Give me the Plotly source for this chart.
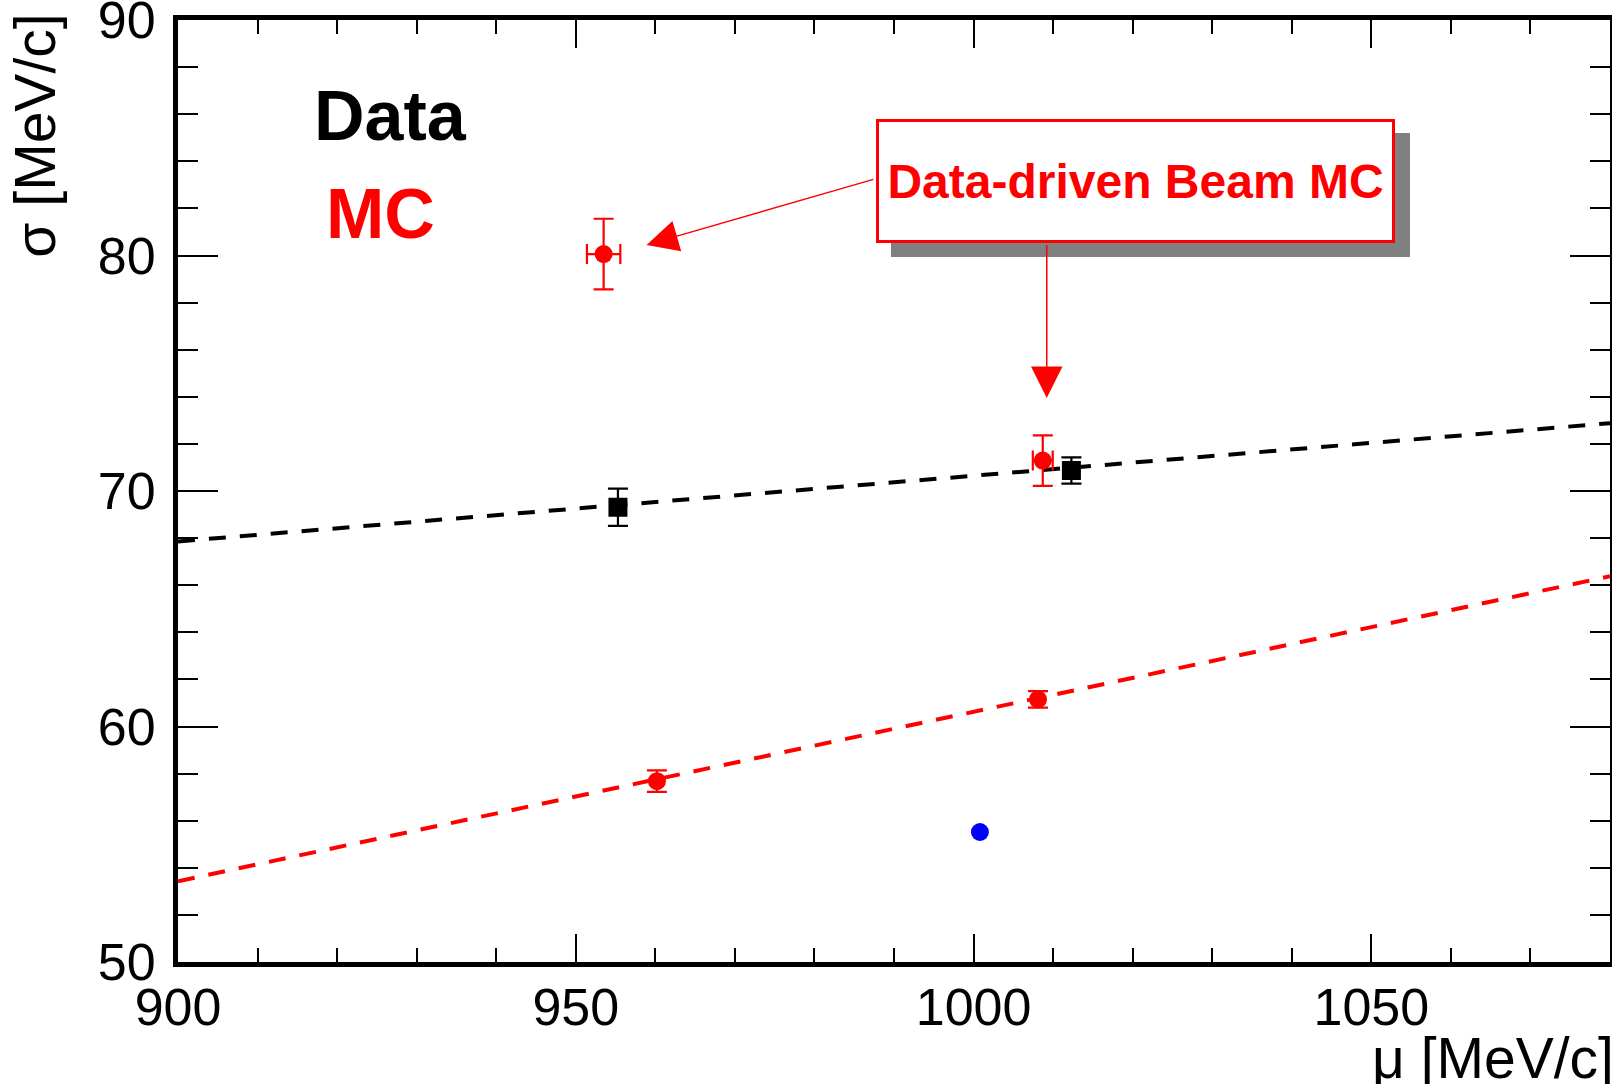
import plotly.graph_objects as go

# ---- data ----
data_x = [955.3, 1012.3]
data_y = [69.31, 70.87]
data_yerr = [0.79, 0.56]

mc_x = [960.2, 1008.1]
mc_y = [57.68, 61.15]
mc_yerr = [0.46, 0.35]

beam_mc_x = [953.5, 1008.7]
beam_mc_y = [80.06, 71.29]
beam_mc_xerr = [2.1, 1.25]
beam_mc_yerr = [1.5, 1.07]

blue_x = [1000.8]
blue_y = [55.52]

fit_x = [900, 1080]
data_fit_y = [67.86, 72.88]
mc_fit_y = [53.43, 66.38]

y_ticks = [50, 60, 70, 80, 90]
x_ticks = [900, 950, 1000, 1050]

FONT = "Liberation Sans, Arial, Helvetica, sans-serif"
RED = "#ff0000"

fig = go.Figure()

# fit lines
fig.add_trace(go.Scatter(x=fit_x, y=data_fit_y, mode="lines",
                         line=dict(color="black", width=4, dash="17px,14px"),
                         showlegend=False, hoverinfo="skip"))
fig.add_trace(go.Scatter(x=fit_x, y=mc_fit_y, mode="lines",
                         line=dict(color=RED, width=4, dash="17px,14px"),
                         showlegend=False, hoverinfo="skip"))

# data points
fig.add_trace(go.Scatter(x=data_x, y=data_y, mode="markers",
                         marker=dict(symbol="square", size=19, color="black"),
                         error_y=dict(type="data", array=data_yerr, color="black",
                                      thickness=2.2, width=10),
                         showlegend=False))
fig.add_trace(go.Scatter(x=mc_x, y=mc_y, mode="markers",
                         marker=dict(symbol="circle", size=18, color=RED),
                         error_y=dict(type="data", array=mc_yerr, color=RED,
                                      thickness=2.2, width=10),
                         showlegend=False))
fig.add_trace(go.Scatter(x=beam_mc_x, y=beam_mc_y, mode="markers",
                         marker=dict(symbol="circle", size=18, color=RED),
                         error_y=dict(type="data", array=beam_mc_yerr, color=RED,
                                      thickness=2.2, width=10),
                         error_x=dict(type="data", array=beam_mc_xerr, color=RED,
                                      thickness=2.2, width=10),
                         showlegend=False))
fig.add_trace(go.Scatter(x=blue_x, y=blue_y, mode="markers",
                         marker=dict(symbol="circle", size=18, color="#0000ff"),
                         showlegend=False))

axis_common = dict(
    showline=True, linewidth=5, linecolor="black", mirror="allticks",
    ticks="inside", tickwidth=2, tickcolor="black",
    showgrid=False, zeroline=False, automargin=False,
    ticklabeloverflow="allow",
    tickfont=dict(family=FONT, size=52, color="black"),
)

fig.update_xaxes(range=[900, 1080], tickvals=x_ticks, ticklen=28,
                 minor=dict(dtick=10, ticklen=14, ticks="inside", tickwidth=2,
                            tickcolor="black", showgrid=False),
                 ticklabelstandoff=-4, **axis_common)
fig.update_yaxes(range=[50, 90], tickvals=y_ticks, ticklen=40,
                 minor=dict(dtick=2, ticklen=20, ticks="inside", tickwidth=2,
                            tickcolor="black", showgrid=False),
                 ticklabelstandoff=7, **axis_common)

annotations = [
    # axis titles
    dict(text="σ [MeV/c]", xref="paper", yref="paper", x=-0.1, y=0.877,
         xanchor="center", yanchor="middle", textangle=-90, showarrow=False,
         font=dict(family=FONT, size=57, color="black")),
    dict(text="μ [MeV/c]", xref="paper", yref="paper", x=1.0, y=-0.102,
         xanchor="right", yanchor="middle", showarrow=False, xshift=6,
         font=dict(family=FONT, size=57, color="black")),
    # labels
    dict(text="<b>Data</b>", x=926.7, y=85.93, showarrow=False,
         font=dict(family=FONT, size=70, color="black")),
    dict(text="<b>MC</b>", x=925.4, y=81.77, showarrow=False,
         font=dict(family=FONT, size=70, color=RED)),
    # shadow box
    dict(text="<b>Data-driven Beam MC</b>", x=1020.35, y=83.17, showarrow=False,
         xshift=15, yshift=-14, width=513, height=118,
         bgcolor="#808080", bordercolor="#808080", borderwidth=3, borderpad=0,
         font=dict(family=FONT, size=48, color="#808080")),
    # arrows
    dict(text=" ", x=958.9, y=80.45, ax=987.6, ay=83.25, axref="x", ayref="y",
         showarrow=True, arrowhead=2, arrowsize=4.2, arrowwidth=1.5,
         arrowcolor=RED, standoff=0, startstandoff=0, font=dict(size=1)),
    dict(text=" ", x=1009.2, y=73.95, ax=1009.2, ay=80.53, axref="x", ayref="y",
         showarrow=True, arrowhead=2, arrowsize=4.2, arrowwidth=1.5,
         arrowcolor=RED, standoff=0, startstandoff=0, font=dict(size=1)),
    # main box
    dict(text="<b>Data-driven Beam MC</b>", x=1020.35, y=83.17, showarrow=False,
         width=513, height=118,
         bgcolor="white", bordercolor=RED, borderwidth=3, borderpad=0,
         font=dict(family=FONT, size=48, color=RED)),
]

fig.update_layout(
    width=1612, height=1084,
    margin=dict(l=178, r=2, t=20, b=122, autoexpand=False),
    paper_bgcolor="white", plot_bgcolor="white",
    showlegend=False,
    annotations=annotations,
    font=dict(family=FONT),
)

fig.write_html("out.html")
